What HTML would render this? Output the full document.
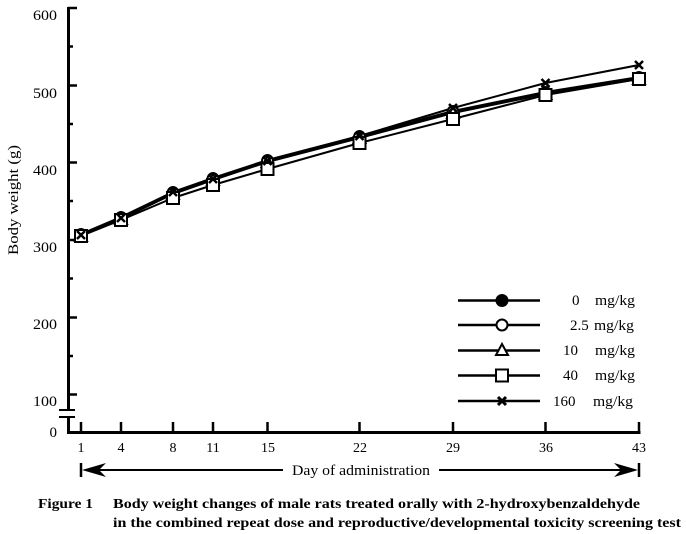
<!DOCTYPE html>
<html>
<head>
<meta charset="utf-8">
<style>
html,body{margin:0;padding:0;background:#fff;}
svg{display:block;}
text{font-family:"Liberation Serif",serif;fill:#000;}
</style>
</head>
<body>
<svg width="686" height="534" viewBox="0 0 686 534" xmlns="http://www.w3.org/2000/svg">
<rect width="686" height="534" fill="#fff"/>

<!-- Y axis -->
<line x1="68.5" y1="7" x2="68.5" y2="410" stroke="#000" stroke-width="3"/>
<line x1="68.5" y1="417" x2="68.5" y2="434" stroke="#000" stroke-width="3"/>
<line x1="59" y1="410" x2="75" y2="410" stroke="#000" stroke-width="2"/>
<line x1="59" y1="417" x2="75" y2="417" stroke="#000" stroke-width="2"/>
<g stroke="#000" stroke-width="2.5">
<line x1="68" y1="8" x2="77" y2="8"/>
<line x1="68" y1="85.5" x2="77" y2="85.5"/>
<line x1="68" y1="162.5" x2="77" y2="162.5"/>
<line x1="68" y1="240" x2="77" y2="240"/>
<line x1="68" y1="317.5" x2="77" y2="317.5"/>
<line x1="68" y1="394.5" x2="77" y2="394.5"/>
<line x1="68" y1="46.5" x2="73" y2="46.5"/>
<line x1="68" y1="124" x2="73" y2="124"/>
<line x1="68" y1="201" x2="73" y2="201"/>
<line x1="68" y1="278.5" x2="73" y2="278.5"/>
<line x1="68" y1="356" x2="73" y2="356"/>
</g>
<g font-size="15" text-anchor="end">
<text x="57" y="20" textLength="24" lengthAdjust="spacingAndGlyphs">600</text>
<text x="57" y="98" textLength="24" lengthAdjust="spacingAndGlyphs">500</text>
<text x="57" y="175" textLength="24" lengthAdjust="spacingAndGlyphs">400</text>
<text x="57" y="252" textLength="24" lengthAdjust="spacingAndGlyphs">300</text>
<text x="57" y="329" textLength="24" lengthAdjust="spacingAndGlyphs">200</text>
<text x="57" y="406" textLength="24" lengthAdjust="spacingAndGlyphs">100</text>
<text x="57" y="437">0</text>
</g>
<text transform="translate(18,200) rotate(-90)" font-size="15" text-anchor="middle" textLength="110" lengthAdjust="spacingAndGlyphs">Body weight (g)</text>

<!-- X axis -->
<line x1="67" y1="432.5" x2="640.5" y2="432.5" stroke="#000" stroke-width="3"/>
<g stroke="#000" stroke-width="2.5">
<line x1="81" y1="422" x2="81" y2="432"/>
<line x1="121" y1="422" x2="121" y2="432"/>
<line x1="173" y1="422" x2="173" y2="432"/>
<line x1="213" y1="422" x2="213" y2="432"/>
<line x1="267.5" y1="422" x2="267.5" y2="432"/>
<line x1="359.5" y1="422" x2="359.5" y2="432"/>
<line x1="453" y1="422" x2="453" y2="432"/>
<line x1="545.5" y1="422" x2="545.5" y2="432"/>
<line x1="639" y1="422" x2="639" y2="432"/>
</g>
<g font-size="14" text-anchor="middle">
<text x="81" y="452">1</text>
<text x="121" y="452">4</text>
<text x="173" y="452">8</text>
<text x="213" y="452">11</text>
<text x="268" y="452">15</text>
<text x="360" y="452">22</text>
<text x="453" y="452">29</text>
<text x="546" y="452">36</text>
<text x="639" y="452">43</text>
</g>

<!-- Day of administration arrow -->
<line x1="81" y1="463" x2="81" y2="477" stroke="#000" stroke-width="2.5"/>
<polygon points="82,470 106,463 99,470 106,477" fill="#000"/>
<line x1="99" y1="470" x2="283" y2="470" stroke="#000" stroke-width="2"/>
<text x="361" y="475" font-size="15" text-anchor="middle" textLength="138" lengthAdjust="spacingAndGlyphs">Day of administration</text>
<line x1="439" y1="470" x2="624" y2="470" stroke="#000" stroke-width="2"/>
<polygon points="638,470 614,463 621,470 614,477" fill="#000"/>
<line x1="639" y1="463" x2="639" y2="477" stroke="#000" stroke-width="2.5"/>

<!-- Series lines -->
<g fill="none" stroke="#000" stroke-width="2" stroke-linejoin="round">
<polyline points="81,234 121,217 173,192 213,178 267.5,160 359.5,136 453,111 545.5,92 639,77"/>
<polyline points="81,235 121,218 173,193 213,179 267.5,161 359.5,137 453,112 545.5,93 639,78"/>
<polyline points="81,236 121,219 173,194 213,180 267.5,162 359.5,138 453,113 545.5,94 639,79"/>
<polyline points="81,236 121,220 173,198 213,185 267.5,169 359.5,143 453,119 545.5,95 639,79"/>
<polyline points="81,235 121,218 173,192 213,179 267.5,161 359.5,136 453,108 545.5,83 639,65"/>
</g>

<g fill="#000">
<circle cx="81" cy="234" r="6"/><circle cx="121" cy="217" r="6"/><circle cx="173" cy="192" r="6"/>
<circle cx="213" cy="178" r="6"/><circle cx="267.5" cy="160" r="6"/><circle cx="359.5" cy="136" r="6"/>
<circle cx="453" cy="111" r="6"/><circle cx="545.5" cy="92" r="6"/><circle cx="639" cy="77" r="6"/>
</g>
<g fill="#fff" stroke="#000" stroke-width="2">
<circle cx="81" cy="235" r="5.5"/><circle cx="121" cy="218" r="5.5"/><circle cx="173" cy="193" r="5.5"/>
<circle cx="213" cy="179" r="5.5"/><circle cx="267.5" cy="161" r="5.5"/><circle cx="359.5" cy="137" r="5.5"/>
<circle cx="453" cy="112" r="5.5"/><circle cx="545.5" cy="93" r="5.5"/><circle cx="639" cy="78" r="5.5"/>
</g>
<g fill="#fff" stroke="#000" stroke-width="2">
<polygon points="81,230 87,241 75,241"/><polygon points="121,213 127,224 115,224"/><polygon points="173,188 179,199 167,199"/>
<polygon points="213,174 219,185 207,185"/><polygon points="267.5,156 273.5,167 261.5,167"/><polygon points="359.5,132 365.5,143 353.5,143"/>
<polygon points="453,107 459,118 447,118"/><polygon points="545.5,88 551.5,99 539.5,99"/><polygon points="639,73 645,84 633,84"/>
</g>
<g fill="#fff" stroke="#000" stroke-width="2">
<rect x="75" y="230" width="12" height="12"/><rect x="115" y="214" width="12" height="12"/><rect x="167" y="192" width="12" height="12"/>
<rect x="207" y="179" width="12" height="12"/><rect x="261.5" y="163" width="12" height="12"/><rect x="353.5" y="137" width="12" height="12"/>
<rect x="447" y="113" width="12" height="12"/><rect x="539.5" y="89" width="12" height="12"/><rect x="633" y="73" width="12" height="12"/>
</g>
<g stroke="#000" stroke-width="2.5">
<path d="M77,231 L85,239 M85,231 L77,239"/>
<path d="M117,214 L125,222 M125,214 L117,222"/>
<path d="M169,188 L177,196 M177,188 L169,196"/>
<path d="M209,175 L217,183 M217,175 L209,183"/>
<path d="M263.5,157 L271.5,165 M271.5,157 L263.5,165"/>
<path d="M355.5,132 L363.5,140 M363.5,132 L355.5,140"/>
<path d="M449,104 L457,112 M457,104 L449,112"/>
<path d="M541.5,79 L549.5,87 M549.5,79 L541.5,87"/>
<path d="M635,61 L643,69 M643,61 L635,69"/>
</g>

<!-- Legend -->
<g stroke="#000" stroke-width="2.5">
<line x1="458" y1="300.5" x2="540" y2="300.5"/>
<line x1="458" y1="325" x2="540" y2="325"/>
<line x1="458" y1="350.5" x2="540" y2="350.5"/>
<line x1="458" y1="375.5" x2="540" y2="375.5"/>
<line x1="458" y1="401" x2="540" y2="401"/>
</g>
<circle cx="502" cy="300.5" r="6.5" fill="#000"/>
<circle cx="502" cy="325" r="5.5" fill="#fff" stroke="#000" stroke-width="2"/>
<polygon points="502,344 508,355 496,355" fill="#fff" stroke="#000" stroke-width="2"/>
<rect x="496" y="369.5" width="12" height="12" fill="#fff" stroke="#000" stroke-width="2"/>
<path d="M498,397 L506,405 M506,397 L498,405" stroke="#000" stroke-width="3"/>
<g font-size="15">
<text x="572" y="305">0</text><text x="595" y="305" textLength="40" lengthAdjust="spacingAndGlyphs">mg/kg</text>
<text x="570" y="330">2.5</text><text x="594" y="330" textLength="40" lengthAdjust="spacingAndGlyphs">mg/kg</text>
<text x="563" y="355">10</text><text x="595" y="355" textLength="40" lengthAdjust="spacingAndGlyphs">mg/kg</text>
<text x="563" y="380">40</text><text x="595" y="380" textLength="40" lengthAdjust="spacingAndGlyphs">mg/kg</text>
<text x="553" y="406">160</text><text x="593" y="406" textLength="40" lengthAdjust="spacingAndGlyphs">mg/kg</text>
</g>

<!-- Caption -->
<g font-size="14" font-weight="bold">
<text x="38" y="508" textLength="55" lengthAdjust="spacingAndGlyphs">Figure 1</text>
<text x="113" y="508" textLength="527" lengthAdjust="spacingAndGlyphs">Body weight changes of male rats treated orally with 2-hydroxybenzaldehyde</text>
<text x="113" y="527" textLength="568" lengthAdjust="spacingAndGlyphs">in the combined repeat dose and reproductive/developmental toxicity screening test</text>
</g>
</svg>
</body>
</html>
